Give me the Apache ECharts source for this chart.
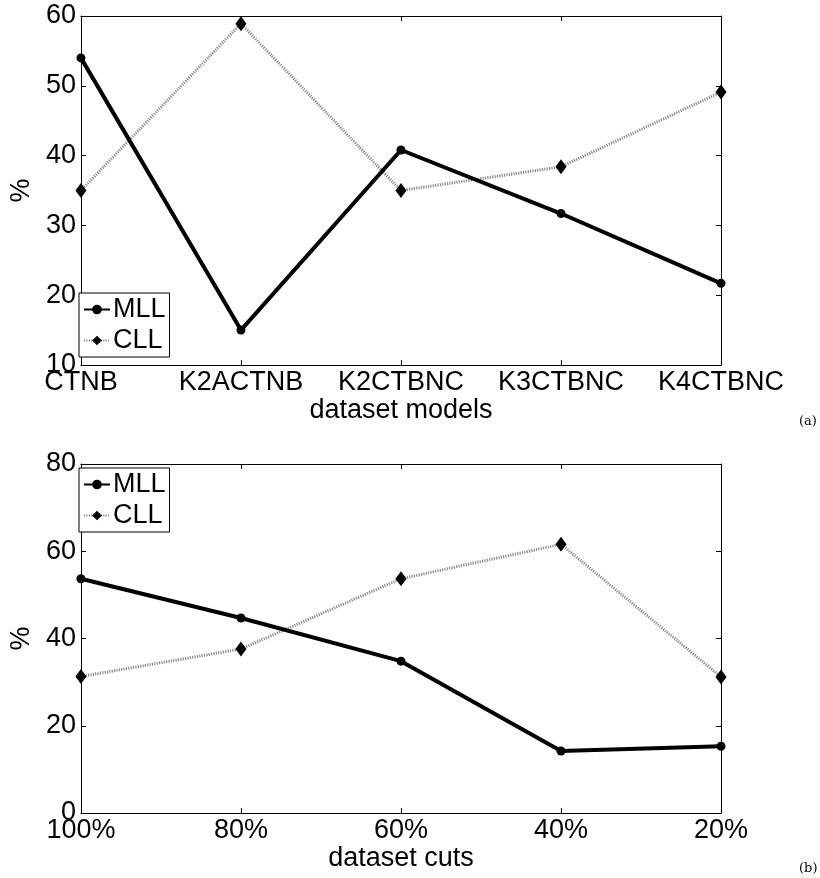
<!DOCTYPE html>
<html>
<head>
<meta charset="utf-8">
<script src="https://cdn.jsdelivr.net/npm/echarts@6/dist/echarts.min.js"></script>
<style>
html,body{margin:0;padding:0;background:#fff;}
#chart{width:820px;height:878px;}
</style>
</head>
<body>
<div id="chart"></div>
<script>
const categoriesA = ['CTNB', 'K2ACTNB', 'K2CTBNC', 'K3CTBNC', 'K4CTBNC'];
const mllA = [54, 15, 40.8, 31.7, 21.7];
const cllA = [35, 58.9, 35, 38.4, 49.1];
const yTicksA = [10, 20, 30, 40, 50, 60];

const categoriesB = ['100%', '80%', '60%', '40%', '20%'];
const mllB = [53.7, 44.7, 34.8, 14.2, 15.3];
const cllB = [31.3, 37.6, 53.7, 61.6, 31.2];
const yTicksB = [0, 20, 40, 60, 80];

const FONT = 'Liberation Sans';
const FS = 27;

const chart = echarts.init(document.getElementById('chart'), null, {renderer: 'canvas'});

function xAxes(gridIndex, cats, name) {
  return [
    {
      type: 'category', gridIndex, data: cats, boundaryGap: false, position: 'bottom',
      axisLine: {show: true, onZero: false, lineStyle: {color: '#000', width: 1}},
      axisTick: {show: true, inside: true, length: 5, alignWithLabel: true, interval: 0, lineStyle: {color: '#000'}},
      axisLabel: {show: true, interval: 0, hideOverlap: false, color: '#000', fontFamily: FONT, fontSize: FS, margin: 4},
      splitLine: {show: false},
      name, nameLocation: 'middle', nameGap: 27,
      nameTextStyle: {color: '#000', fontFamily: FONT, fontSize: FS}
    },
    {
      type: 'category', gridIndex, data: cats, boundaryGap: false, position: 'top',
      axisLine: {show: true, onZero: false, lineStyle: {color: '#000', width: 1}},
      axisTick: {show: true, inside: true, length: 5, interval: 0, lineStyle: {color: '#000'}},
      axisLabel: {show: false}, splitLine: {show: false}
    }
  ];
}
function yAxes(gridIndex, ticks) {
  const min = ticks[0], max = ticks[ticks.length - 1], interval = ticks[1] - ticks[0];
  return [
    {
      type: 'value', gridIndex, min, max, interval, position: 'left',
      axisLine: {show: true, onZero: false, lineStyle: {color: '#000', width: 1}},
      axisTick: {show: true, inside: true, length: 5, lineStyle: {color: '#000'}},
      axisLabel: {show: true, color: '#000', fontFamily: FONT, fontSize: FS, margin: 5},
      splitLine: {show: false},
      name: '%', nameLocation: 'middle', nameGap: 42, nameRotate: 90,
      nameTextStyle: {color: '#000', fontFamily: FONT, fontSize: FS}
    },
    {
      type: 'value', gridIndex, min, max, interval, position: 'right',
      axisLine: {show: true, onZero: false, lineStyle: {color: '#000', width: 1}},
      axisTick: {show: true, inside: true, length: 5, lineStyle: {color: '#000'}},
      axisLabel: {show: false}, splitLine: {show: false}
    }
  ];
}
function mllSeries(xi, yi, data) {
  return {
    name: 'MLL', type: 'line', xAxisIndex: xi, yAxisIndex: yi, data,
    symbol: 'circle', symbolSize: 9, showSymbol: true,
    lineStyle: {color: '#000', width: 4},
    itemStyle: {color: '#000'}, z: 3, animation: false
  };
}
function cllSeries(xi, yi, data) {
  return {
    name: 'CLL', type: 'line', xAxisIndex: xi, yAxisIndex: yi, data,
    symbol: 'diamond', symbolSize: [11, 15], showSymbol: true,
    lineStyle: {color: '#8a8a8a', width: 3, type: [1.2, 1.2]},
    itemStyle: {color: '#000'}, z: 2, animation: false
  };
}
function legendAt(left, top) {
  return {
    orient: 'vertical', left, top, data: ['MLL', 'CLL'],
    backgroundColor: '#fff', borderColor: '#000', borderWidth: 1, borderRadius: 0,
    padding: [3, 4, 3, 4], itemGap: 4, itemWidth: 26, itemHeight: 12,
    textStyle: {color: '#000', fontFamily: FONT, fontSize: FS, padding: [0, 0, 0, -2]},
    selectedMode: false
  };
}

const option = {
  backgroundColor: '#fff',
  animation: false,
  grid: [
    {left: 76, top: 16, width: 645, height: 349},
    {left: 76, top: 464, width: 645, height: 349}
  ],
  xAxis: [...xAxes(0, categoriesA, 'dataset models'), ...xAxes(1, categoriesB, 'dataset cuts')],
  yAxis: [...yAxes(0, yTicksA), ...yAxes(1, yTicksB)],
  legend: [legendAt(79, 293), legendAt(79, 468)],
  series: [
    mllSeries(0, 0, mllA), cllSeries(0, 0, cllA),
    mllSeries(2, 2, mllB), cllSeries(2, 2, cllB)
  ],
  graphic: [
    {type: 'text', left: 799, top: 415, style: {text: '(a)', fill: '#000', font: '13px "DejaVu Serif"'}},
    {type: 'text', left: 799, top: 862, style: {text: '(b)', fill: '#000', font: '13px "DejaVu Serif"'}}
  ]
};
chart.setOption(option);
</script>
</body>
</html>
